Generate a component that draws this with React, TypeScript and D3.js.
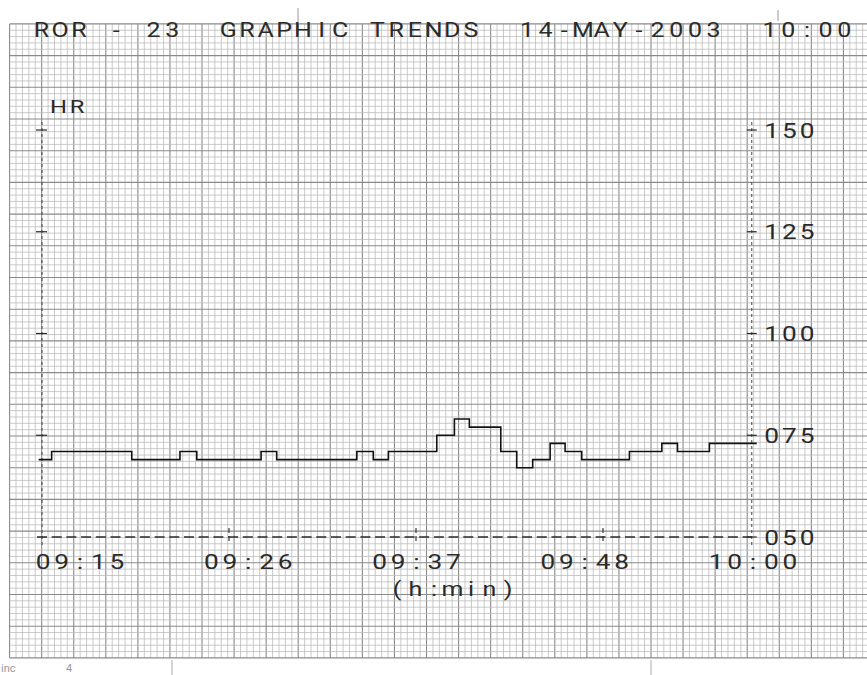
import React from "react";
import * as d3 from "d3";

// ---- data ----
const titleText = "ROR - 23  GRAPHIC TRENDS  14-MAY-2003  10:00";
const paramLabel = "HR";
const unitLabel = "(h:min)";
const timeLabels = ["09:15", "09:26", "09:37", "09:48", "10:00"];
const hrTicks = [50, 75, 100, 125, 150];
// minutes after 09:15 where the HR step starts
const minutes = [-0.2, 0.58, 5.4, 8.3, 9.31, 13.18, 14.12, 18.94, 19.93, 20.84, 23.75, 24.81, 25.71, 27.6, 28.56, 29.52, 30.57, 31.47, 32.47, 35.34, 37.29, 38.23, 40.15, 43.0];
const hr = [69, 71, 69, 71, 69, 71, 69, 71, 69, 71, 75, 79, 77, 71, 67, 69, 73, 71, 69, 71, 73, 71, 73, 73];
const timeTickMinutes = [11.25, 22.5, 33.75];
const trendEndMinute = 42.7;

const W = 867;
const H = 675;
const FONT = "Roboto, 'Open Sans', 'DejaVu Sans', sans-serif";
const INK = "#2a2a2a";

function MonoText({ cx, y, text, pitch, size, anchorIndex = 0, sx = 1.25, fill = INK }: any) {
  const xs = text.split("").map((_: string, i: number) => ((i - anchorIndex) * pitch) / sx);
  return (
    <text
      transform={`translate(${cx},${y}) scale(${sx},1)`}
      x={xs.join(" ")}
      y={0}
      textAnchor="middle"
      fontFamily={FONT}
      fontWeight={400}
      fontSize={size}
      fill={fill}
      style={{ whiteSpace: "pre" }}
    >
      {text}
    </text>
  );
}

export default function App() {
  // paper grid
  const gx0 = 9.6, gy0 = 23.9, gy1 = 657.9;
  const majX = 32.07, majY = 31.7;
  const vMinor = d3.range(0, 27 * 5 + 1).map((k) => gx0 + (k * majX) / 5).filter((x) => x <= W);
  const hMinor = d3.range(0, 20 * 5 + 1).map((k) => gy0 + (k * majY) / 5);

  const x = d3.scaleLinear().domain([0, 45]).range([42, 790]);
  const y = d3.scaleLinear().domain([50, 150]).range([537, 130]);
  const labelPos = d3.scalePoint<string>().domain(timeLabels).range([80, 753]);
  const fmt = d3.format("03d");

  const pts = minutes.map((m, i) => [m, hr[i]] as [number, number]);
  const line = d3
    .line<[number, number]>()
    .x((d) => x(d[0]))
    .y((d) => y(d[1]))
    .curve(d3.curveStepAfter);

  const xl = x(0);
  const xr = x(trendEndMinute);
  const y50 = y(50);

  return (
    <svg width={W} height={H} style={{ position: "absolute", left: 0, top: 0, background: "#fff" }}>
      <rect x={0} y={0} width={W} height={H} fill="#fff" />
      {/* grid */}
      <g>
        {vMinor.map((gx, k) => (
          <line key={"v" + k} x1={gx} x2={gx} y1={gy0} y2={gy1}
            stroke={k % 5 === 0 ? "#8a8a8a" : "#bdbdbd"} strokeWidth={k % 5 === 0 ? 1.1 : 0.8} />
        ))}
        {hMinor.map((gy, k) => (
          <line key={"h" + k} x1={gx0} x2={W} y1={gy} y2={gy}
            stroke={k % 5 === 0 ? "#8a8a8a" : "#bdbdbd"} strokeWidth={k % 5 === 0 ? 1.1 : 0.8} />
        ))}
      </g>
      {/* paper marks */}
      <line x1={298} x2={298} y1={8} y2={22} stroke="#999" strokeWidth={1} />
      <line x1={778} x2={778} y1={10} y2={21} stroke="#999" strokeWidth={1} />
      <line x1={172} x2={172} y1={660} y2={675} stroke="#aaa" strokeWidth={1} />
      <line x1={651} x2={651} y1={660} y2={675} stroke="#aaa" strokeWidth={1} />
      <text x={1} y={672} fontFamily={FONT} fontSize={11} fill="#999">inc</text>
      <text x={66} y={672} fontFamily={FONT} fontSize={11} fill="#999">4</text>

      {/* axes */}
      <line x1={xl} x2={xl} y1={y(150) - 8} y2={y50 + 8} stroke="#444" strokeWidth={1} strokeDasharray="3 3" />
      <line x1={xr} x2={xr} y1={y(150) - 8} y2={y50 + 8} stroke="#444" strokeWidth={1} strokeDasharray="3 3" />
      {hrTicks.filter((v) => v > 50).map((v) => (
        <line key={"lt" + v} x1={xl - 6} x2={xl + 5} y1={y(v)} y2={y(v)} stroke={INK} strokeWidth={1.2} />
      ))}
      {hrTicks.map((v) => (
        <line key={"rt" + v} x1={xr - 5} x2={xr + 5} y1={y(v)} y2={y(v)} stroke={INK} strokeWidth={1.2} />
      ))}
      <line x1={xl - 5} x2={xr} y1={y50} y2={y50} stroke={INK} strokeWidth={1.3} strokeDasharray="10 4.7" />
      {timeTickMinutes.map((m) => (
        <line key={"tt" + m} x1={x(m)} x2={x(m)} y1={y50 - 9} y2={y50 + 7} stroke={INK} strokeWidth={1.1} strokeDasharray="5 3" />
      ))}

      {/* trend */}
      <path d={line(pts) || ""} fill="none" stroke="#111" strokeWidth={1.6} />

      {/* texts */}
      <MonoText cx={41.5} y={37} text={titleText} pitch={18.67} size={20} />
      <MonoText cx={58.5} y={113} text={paramLabel} pitch={18.5} size={19} />
      {hrTicks.map((v) => (
        <MonoText key={"rl" + v} cx={771.5} y={y(v) + 7.5} text={fmt(v)} pitch={17.8} size={21} />
      ))}
      {timeLabels.map((t) => (
        <MonoText key={t} cx={labelPos(t)} y={569} text={t} pitch={18.4} size={21} anchorIndex={2} />
      ))}
      <MonoText cx={397} y={596} text={unitLabel} pitch={18.5} size={20} />
    </svg>
  );
}
